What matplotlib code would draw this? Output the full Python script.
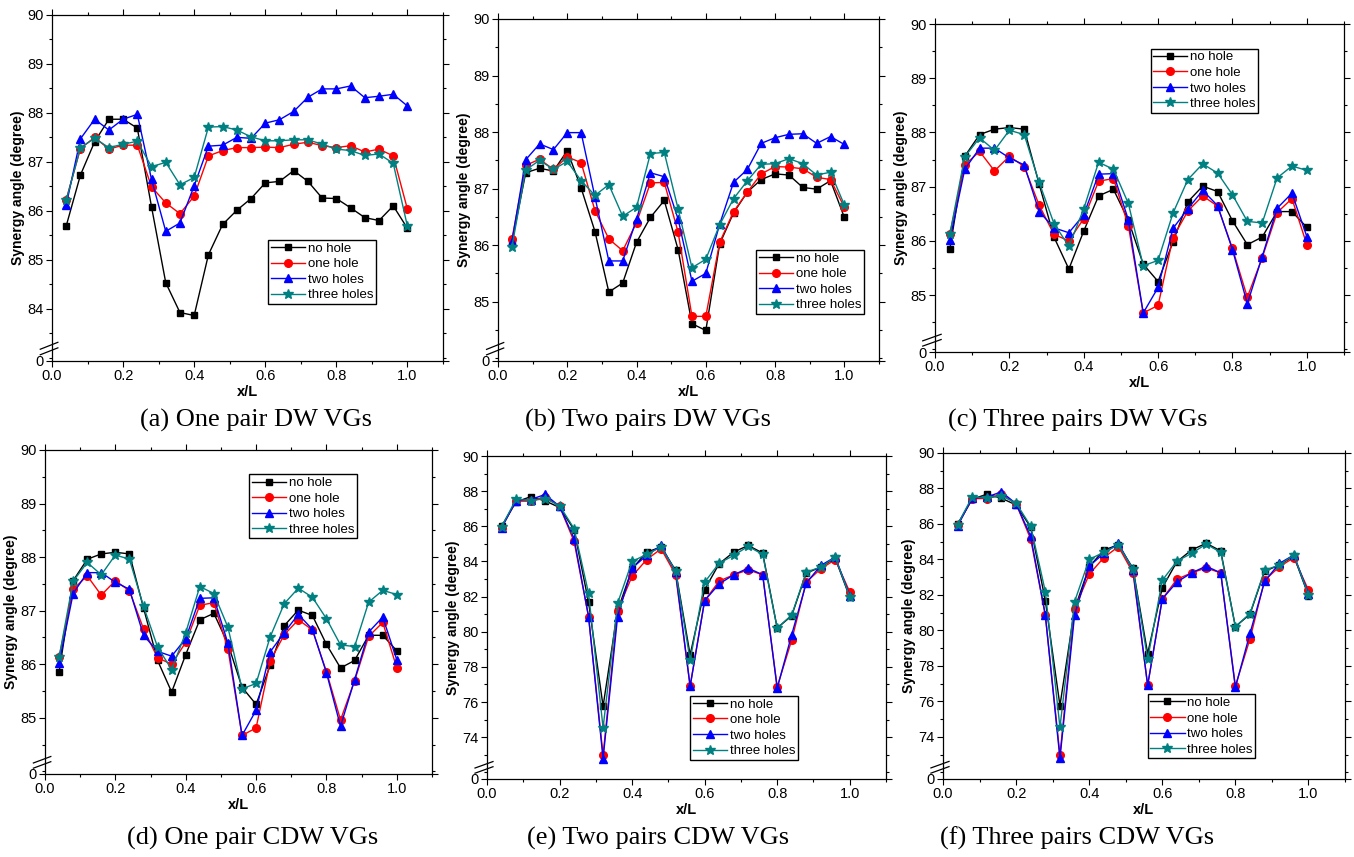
"""
Synergy angle along x/L for DW and CDW vortex generators, with 0-3 holes.
Six Origin-style panels with a broken y axis.
"""
import matplotlib
matplotlib.use("Agg")
import matplotlib.pyplot as plt
from matplotlib.ticker import MultipleLocator

X = [0.04, 0.08, 0.12, 0.16, 0.20, 0.24, 0.28, 0.32, 0.36, 0.40, 0.44, 0.48, 0.52,
     0.56, 0.60, 0.64, 0.68, 0.72, 0.76, 0.80, 0.84, 0.88, 0.92, 0.96, 1.00]

SERIES = ["no hole", "one hole", "two holes", "three holes"]

# (a) one pair DW VGs
DW1_NO = [85.69, 86.73, 87.41, 87.87, 87.87, 87.69, 86.08, 84.53, 83.92, 83.86, 85.10, 85.72, 86.01,
          86.25, 86.57, 86.60, 86.82, 86.60, 86.26, 86.25, 86.06, 85.86, 85.80, 86.10, 85.64]
DW1_ONE = [86.23, 87.27, 87.50, 87.26, 87.34, 87.34, 86.49, 86.16, 85.94, 86.30, 87.12, 87.23, 87.29,
           87.29, 87.30, 87.29, 87.36, 87.40, 87.33, 87.29, 87.33, 87.20, 87.26, 87.12, 86.03]
DW1_TWO = [86.12, 87.47, 87.87, 87.65, 87.87, 87.97, 86.64, 85.58, 85.75, 86.51, 87.32, 87.34, 87.50,
           87.48, 87.79, 87.86, 88.03, 88.32, 88.49, 88.49, 88.55, 88.31, 88.34, 88.38, 88.14]
DW1_THREE = [86.21, 87.29, 87.48, 87.29, 87.36, 87.42, 86.90, 86.99, 86.53, 86.68, 87.71, 87.72, 87.65,
             87.51, 87.43, 87.43, 87.45, 87.45, 87.36, 87.26, 87.23, 87.13, 87.16, 86.97, 85.68]

# (b) two pairs DW VGs
DW2_NO = [86.05, 87.28, 87.36, 87.31, 87.67, 87.01, 86.24, 85.17, 85.33, 86.05, 86.49, 86.79, 85.92,
          84.61, 84.49, 86.02, 86.57, 86.94, 87.16, 87.26, 87.24, 87.02, 86.99, 87.14, 86.49]
DW2_ONE = [86.10, 87.41, 87.52, 87.34, 87.56, 87.46, 86.61, 86.11, 85.90, 86.40, 87.10, 87.11, 86.23,
           84.74, 84.74, 86.05, 86.59, 86.94, 87.26, 87.39, 87.38, 87.35, 87.20, 87.16, 86.67]
DW2_TWO = [86.05, 87.51, 87.79, 87.69, 87.99, 87.99, 86.85, 85.72, 85.72, 86.46, 87.28, 87.21, 86.46,
           85.36, 85.50, 86.37, 87.11, 87.34, 87.80, 87.90, 87.96, 87.97, 87.80, 87.92, 87.78]
DW2_THREE = [85.96, 87.33, 87.50, 87.34, 87.48, 87.14, 86.88, 87.07, 86.51, 86.67, 87.62, 87.64, 86.64,
             85.60, 85.75, 86.36, 86.82, 87.14, 87.43, 87.44, 87.53, 87.44, 87.24, 87.29, 86.71]

# (c) three pairs DW VGs -- (d) one pair CDW VGs shows the same curves
DW3_NO = [85.85, 87.56, 87.96, 88.06, 88.09, 88.06, 87.05, 86.07, 85.48, 86.18, 86.83, 86.95, 86.38,
          85.57, 85.25, 85.98, 86.72, 87.01, 86.91, 86.37, 85.93, 86.07, 86.54, 86.54, 86.25]
DW3_ONE = [86.13, 87.40, 87.65, 87.29, 87.56, 87.37, 86.66, 86.12, 86.00, 86.41, 87.10, 87.15, 86.28,
           84.67, 84.81, 86.06, 86.55, 86.83, 86.64, 85.86, 84.96, 85.69, 86.52, 86.78, 85.93]
DW3_TWO = [86.02, 87.32, 87.71, 87.71, 87.53, 87.40, 86.54, 86.24, 86.15, 86.48, 87.23, 87.24, 86.39,
           84.67, 85.14, 86.23, 86.59, 86.93, 86.65, 85.84, 84.84, 85.71, 86.60, 86.88, 86.08]
DW3_THREE = [86.13, 87.55, 87.90, 87.67, 88.04, 87.96, 87.08, 86.32, 85.90, 86.59, 87.45, 87.32, 86.69,
             85.54, 85.64, 86.51, 87.13, 87.42, 87.25, 86.85, 86.36, 86.33, 87.16, 87.38, 87.30]

# (e) two pairs CDW VGs -- (f) three pairs CDW VGs shows the same curves
CDW2_NO = [86.00, 87.39, 87.68, 87.45, 87.07, 85.81, 81.68, 75.76, 81.20, 83.58, 84.53, 84.82, 83.49,
           78.69, 82.40, 83.87, 84.53, 84.91, 84.48, 80.21, 80.91, 83.33, 83.68, 84.19, 81.96]
CDW2_ONE = [85.92, 87.43, 87.43, 87.68, 87.14, 85.14, 80.86, 72.97, 81.20, 83.16, 84.10, 84.72, 83.24,
            76.90, 81.77, 82.88, 83.24, 83.52, 83.24, 76.86, 79.52, 82.82, 83.58, 84.10, 82.27]
CDW2_TWO = [85.90, 87.45, 87.52, 87.81, 87.14, 85.30, 80.86, 72.78, 80.86, 83.62, 84.34, 84.91, 83.39,
            76.90, 81.77, 82.72, 83.24, 83.62, 83.24, 76.78, 79.83, 82.76, 83.77, 84.25, 82.06]
CDW2_THREE = [85.96, 87.54, 87.45, 87.58, 87.18, 85.87, 82.19, 74.53, 81.62, 84.00, 84.40, 84.82, 83.45,
              78.38, 82.82, 83.90, 84.34, 84.86, 84.40, 80.21, 80.95, 83.39, 83.68, 84.25, 82.00]

CAPTIONS = ["(a) One pair DW VGs", "(b) Two pairs DW VGs", "(c) Three pairs DW VGs",
            "(d) One pair CDW VGs", "(e) Two pairs CDW VGs", "(f) Three pairs CDW VGs"]

PANEL_DATA = [
    (DW1_NO, DW1_ONE, DW1_TWO, DW1_THREE),
    (DW2_NO, DW2_ONE, DW2_TWO, DW2_THREE),
    (DW3_NO, DW3_ONE, DW3_TWO, DW3_THREE),
    (DW3_NO, DW3_ONE, DW3_TWO, DW3_THREE),
    (CDW2_NO, CDW2_ONE, CDW2_TWO, CDW2_THREE),
    (CDW2_NO, CDW2_ONE, CDW2_TWO, CDW2_THREE),
]

# styling / layout -----------------------------------------------------------
W, H = 1354, 857
STYLES = [("k", "s"), ("#ff0000", "o"), ("#0000ff", "^"), ("#008080", "*")]
MSIZE = [5, 5.5, 6, 7.5]

# axes boxes in pixels: left, top, right, bottom
BOXES = [(52, 15, 443, 361), (498, 19, 879, 361), (935, 24, 1344, 352),
         (45, 450, 432, 774), (487, 456, 886, 779), (943, 453, 1345, 779)]
# y-axis: lower limit (labelled "0"), major ticks, minor step
YAXES = [(82.93, [84, 85, 86, 87, 88, 89, 90], 0.5),
         (83.95, [85, 86, 87, 88, 89, 90], 0.5),
         (83.95, [85, 86, 87, 88, 89, 90], 0.5),
         (83.95, [85, 86, 87, 88, 89, 90], 0.5),
         (71.62, [74, 76, 78, 80, 82, 84, 86, 88, 90], 1.0),
         (71.62, [74, 76, 78, 80, 82, 84, 86, 88, 90], 1.0)]
LEGEND_ANCHOR = [(0.553, 0.35), (0.677, 0.325), (0.527, 0.925),
                 (0.527, 0.925), (0.51, 0.258), (0.509, 0.26)]
CAPTION_POS = [(256, 420), (648, 420), (1078, 420), (253, 838), (658, 838), (1077, 838)]

plt.rcParams["font.family"] = ["Liberation Sans", "DejaVu Sans"]

fig = plt.figure(figsize=(W / 100, H / 100), dpi=100)

for i, data in enumerate(PANEL_DATA):
    l, t, r, b = BOXES[i]
    ax = fig.add_axes([l / W, 1 - b / H, (r - l) / W, (b - t) / H])
    for ys, name, (c, m), ms in zip(data, SERIES, STYLES, MSIZE):
        ax.plot(X, ys, color=c, marker=m, markersize=ms, linewidth=1.0, label=name,
                markeredgecolor=c, markerfacecolor=c)

    ymin, majors, minor = YAXES[i]
    ax.set_xlim(0, 1.1)
    ax.set_ylim(ymin, 90)
    ax.set_xticks([0.0, 0.2, 0.4, 0.6, 0.8, 1.0])
    ax.xaxis.set_minor_locator(MultipleLocator(0.1))
    ax.set_yticks([ymin] + majors)
    ax.set_yticklabels(["0"] + [str(v) for v in majors])
    ax.yaxis.set_minor_locator(MultipleLocator(minor))
    ax.tick_params(which="both", direction="out", top=True, right=True,
                   labelsize=10.5, pad=2)
    ax.tick_params(which="major", length=4, width=0.8)
    ax.tick_params(which="minor", length=2.5, width=0.8)
    for s in ax.spines.values():
        s.set_linewidth(0.9)

    ax.set_xlabel("x/L", fontsize=10.5, fontweight="bold", labelpad=1)
    ax.set_ylabel("Synergy angle (degree)", fontsize=10, fontweight="bold", labelpad=2)

    # axis-break marks on the left spine
    for dy in (0.018, 0.034):
        ax.plot([-0.03, 0.015], [dy, dy + 0.02], color="k", linewidth=0.9,
                transform=ax.transAxes, clip_on=False)

    ax.legend(loc="upper left", bbox_to_anchor=LEGEND_ANCHOR[i], fontsize=9.5,
              frameon=True, fancybox=False, edgecolor="k", framealpha=1,
              borderpad=0.2, labelspacing=0.25, handlelength=2.6,
              handletextpad=0.2, borderaxespad=0)

    cx, cy = CAPTION_POS[i]
    fig.text(cx / W, 1 - cy / H, CAPTIONS[i], ha="center", va="center",
             fontsize=19, family="Liberation Serif")

fig.savefig("out.png", dpi=100)
